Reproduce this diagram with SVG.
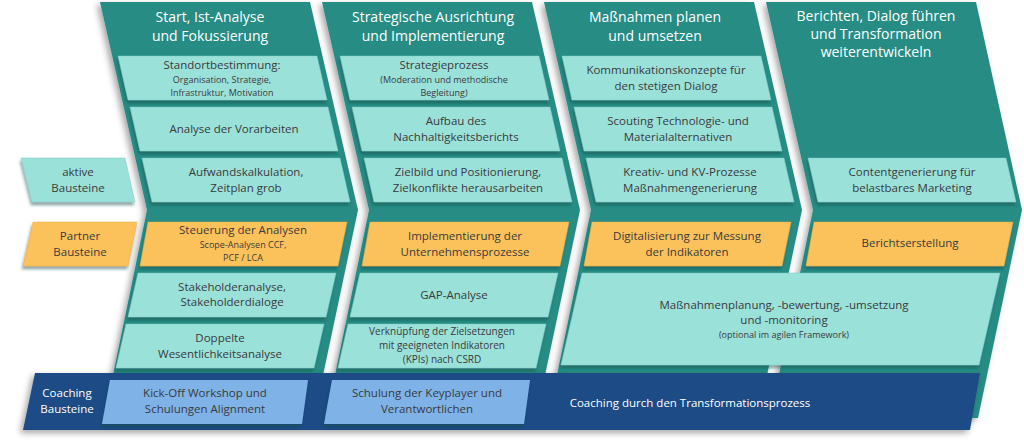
<svg xmlns="http://www.w3.org/2000/svg" width="1024" height="442" viewBox="0 0 1024 442">
<style>
.col{fill:#288c84;filter:url(#sh)}
.bx{fill:#9ae1da;stroke:#7fcfc7;stroke-width:0.5;filter:url(#sh2)}
.or{fill:#fbc25b;stroke:#e8ad45;stroke-width:0.5;filter:url(#sh2)}
.cb{fill:#7fb3e8;filter:url(#sh2)}
text{font-family:"Open Sans","Liberation Sans",sans-serif;text-anchor:middle;fill:#3a3a3a;font-size:11.5px}
.h{fill:#fff;font-size:14px}
.w{fill:#fff;font-size:11.5px}
.s{font-size:9px}
</style>
<defs>
<filter id="sh" x="-10%" y="-10%" width="130%" height="130%"><feDropShadow dx="-3" dy="3" stdDeviation="3" flood-color="#000" flood-opacity="0.35"/></filter>
<filter id="sh2" x="-10%" y="-10%" width="130%" height="140%"><feDropShadow dx="-1" dy="3" stdDeviation="1.5" flood-color="#0b4a44" flood-opacity="0.5"/></filter>
</defs>
<g id="columns">
<path id="col1" class="col" d="M100,2 L310,2 L358,210 L322,380 L112,380 L147,210 Z"/>
<path id="col2" class="col" d="M322,2 L532,2 L580,210 L544,380 L334,380 L369,210 Z"/>
<path id="col3" class="col" d="M544,2 L754,2 L802,210 L766,380 L556,380 L591,210 Z"/>
<path id="col4" class="col" d="M766,2 L976,2 L1022,210 L978,418 L770,418 L813,210 Z"/>
<text class="h" x="210" y="22">Start, Ist-Analyse</text><text class="h" x="210" y="41">und Fokussierung</text>
<text class="h" x="433" y="22">Strategische Ausrichtung</text><text class="h" x="433" y="41">und Implementierung</text>
<text class="h" x="655" y="22">Maßnahmen planen</text><text class="h" x="655" y="41">und umsetzen</text>
<text class="h" x="876" y="21">Berichten, Dialog führen</text><text class="h" x="876" y="39">und Transformation</text><text class="h" x="876" y="57">weiterentwickeln</text>
</g>
<g id="legend">
<g id="leg-aktiv"><path class="bx" d="M21,158 L125,158 L135,202 L32,202 Z"/><text x="78" y="176">aktive</text><text x="78" y="192">Bausteine</text></g>
<g id="leg-partner"><path class="or" d="M33,222 L137,222 L128,266 L23,266 Z"/><text x="80" y="240">Partner</text><text x="80" y="256">Bausteine</text></g>
</g>
<g id="band">
<path d="M35,373 L980,373 L970,430 L23,430 Z" fill="#1e4b86" filter="url(#sh)"/>
<text class="w" x="67" y="397">Coaching</text><text class="w" x="67" y="413">Bausteine</text>
<g id="cb1"><path class="cb" d="M110,380 L308,380 L302,424 L102,424 Z"/><text x="205" y="397">Kick-Off Workshop und</text><text x="205" y="413">Schulungen Alignment</text></g>
<g id="cb2"><path class="cb" d="M332,380 L530,380 L524,424 L324,424 Z"/><text x="427" y="397">Schulung der Keyplayer und</text><text x="427" y="413">Verantwortlichen</text></g>
<text class="w" x="690" y="407">Coaching durch den Transformationsprozess</text>
</g>
<g id="c1">
<g id="c1b1"><path class="bx" d="M118,56 L317,56 L327,100 L128,100 Z"/><text x="222" y="69">Standortbestimmung:</text><text class="s" x="222" y="83">Organisation, Strategie,</text><text class="s" x="222" y="96">Infrastruktur, Motivation</text></g>
<g id="c1b2"><path class="bx" d="M130,107 L328,107 L338,151 L140,151 Z"/><text x="234" y="133">Analyse der Vorarbeiten</text></g>
<g id="c1b3"><path class="bx" d="M142,158 L340,158 L350,202 L152,202 Z"/><text x="246" y="176">Aufwandskalkulation,</text><text x="246" y="192">Zeitplan grob</text></g>
<g id="c1b4"><path class="or" d="M148,222 L347,222 L338,266 L140,266 Z"/><text x="243" y="234">Steuerung der Analysen</text><text class="s" x="243" y="248">Scope-Analysen CCF,</text><text class="s" x="243" y="261">PCF / LCA</text></g>
<g id="c1b5"><path class="bx" d="M138,273 L336,273 L326,317 L128,317 Z"/><text x="232" y="291">Stakeholderanalyse,</text><text x="232" y="306">Stakeholderdialoge</text></g>
<g id="c1b6"><path class="bx" d="M126,324 L324,324 L314,368 L116,368 Z"/><text x="220" y="342">Doppelte</text><text x="220" y="358">Wesentlichkeitsanalyse</text></g>
</g>
<g id="c2">
<g id="c2b1"><path class="bx" d="M340,56 L539,56 L549,100 L350,100 Z"/><text x="444" y="69">Strategieprozess</text><text class="s" x="444" y="83">(Moderation und methodische</text><text class="s" x="444" y="96">Begleitung)</text></g>
<g id="c2b2"><path class="bx" d="M352,107 L550,107 L560,151 L362,151 Z"/><text x="456" y="125">Aufbau des</text><text x="456" y="141">Nachhaltigkeitsberichts</text></g>
<g id="c2b3"><path class="bx" d="M364,158 L562,158 L572,202 L374,202 Z"/><text x="468" y="176">Zielbild und Positionierung,</text><text x="468" y="192">Zielkonflikte herausarbeiten</text></g>
<g id="c2b4"><path class="or" d="M370,222 L569,222 L560,266 L362,266 Z"/><text x="465" y="240">Implementierung der</text><text x="465" y="256">Unternehmensprozesse</text></g>
<g id="c2b5"><path class="bx" d="M360,273 L558,273 L548,317 L350,317 Z"/><text x="454" y="299">GAP-Analyse</text></g>
<g id="c2b6"><path class="bx" d="M348,324 L546,324 L536,368 L338,368 Z"/><text class="s" style="font-size:10px" x="442" y="335">Verknüpfung der Zielsetzungen</text><text class="s" style="font-size:10px" x="442" y="349">mit  geeigneten Indikatoren</text><text class="s" style="font-size:10px" x="442" y="363">(KPIs) nach CSRD</text></g>
</g>
<g id="c3">
<g id="c3b1"><path class="bx" d="M562,56 L761,56 L771,100 L572,100 Z"/><text x="666" y="74">Kommunikationskonzepte für</text><text x="666" y="90">den stetigen Dialog</text></g>
<g id="c3b2"><path class="bx" d="M574,107 L772,107 L782,151 L584,151 Z"/><text x="678" y="125">Scouting Technologie- und</text><text x="678" y="141">Materialalternativen</text></g>
<g id="c3b3"><path class="bx" d="M586,158 L784,158 L794,202 L596,202 Z"/><text x="690" y="176">Kreativ- und KV-Prozesse</text><text x="690" y="192">Maßnahmengenerierung</text></g>
<g id="c3b4"><path class="or" d="M592,222 L791,222 L782,266 L584,266 Z"/><text x="687" y="240">Digitalisierung zur Messung</text><text x="687" y="256">der Indikatoren</text></g>
<g id="c3b5"><path class="bx" d="M582,273 L1000,273 L979,365 L561,365 Z"/><text x="784" y="309">Maßnahmenplanung, -bewertung, -umsetzung</text><text x="784" y="324">und -monitoring</text><text class="s" x="784" y="338">(optional im agilen Framework)</text></g>
</g>
<g id="c4">
<g id="c4b3"><path class="bx" d="M808,158 L1006,158 L1016,202 L818,202 Z"/><text x="912" y="176">Contentgenerierung für</text><text x="912" y="192">belastbares Marketing</text></g>
<g id="c4b4"><path class="or" d="M814,222 L1013,222 L1004,266 L806,266 Z"/><text x="910" y="247">Berichtserstellung</text></g>
</g>
<g id="connectors"/>
</svg>
